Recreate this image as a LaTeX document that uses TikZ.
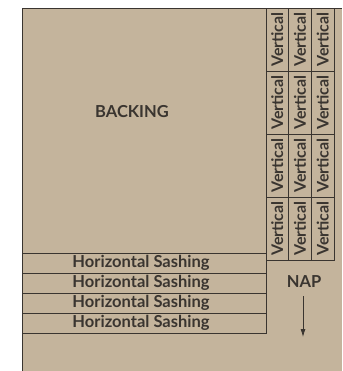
\documentclass[tikz,border=0pt]{standalone}
\usepackage{fontspec}
\setmainfont{Lato}
\usetikzlibrary{arrows.meta}
\definecolor{quiltbg}{HTML}{C4B49C}
\definecolor{seam}{HTML}{3A3530}

\begin{document}
\begin{tikzpicture}[x=1pt,y=-1pt,
        every node/.style={text=seam,inner sep=0pt},
        vcell/.style={draw=seam,line width=0.8pt,rotate=90,minimum width=63pt,minimum height=22.7pt,font=\fontsize{16}{16}\selectfont\bfseries},
        hcell/.style={draw=seam,line width=0.8pt,minimum width=244pt,minimum height=20pt,font=\fontsize{16.5}{16.5}\selectfont\bfseries}]
                \useasboundingbox (0,0) rectangle (342,371);
                \fill[quiltbg] (22,8) rectangle (342,371);
                \draw[seam,line width=0.9pt] (22,371) -- (22,8) -- (342,8);
                \node[font=\fontsize{16.5}{16.5}\selectfont\bfseries] (backing) at (132,112) {BACKING};
                \foreach \c in {0,1,2}
                    \foreach \r in {0,1,2,3}
                        \node[vcell] (vert\c\r) at ({277.3+\c*22.7},{39.5+\r*63}) {Vertical};
                \foreach \k in {0,1,2,3}
                    \node[hcell] (sash\k) at (144,{263.3+\k*20}) {\hspace*{-6pt}Horizontal Sashing};
                \node[font=\fontsize{16.5}{16.5}\selectfont\bfseries] (nap) at (304,282) {NAP};
                \coordinate (napend) at (303,337);
                \draw[seam,line width=0.8pt,-{Latex[length=8pt,width=5pt]},shorten <=8pt] (nap.south -| napend) -- (napend);
            \end{tikzpicture}
\end{document}
